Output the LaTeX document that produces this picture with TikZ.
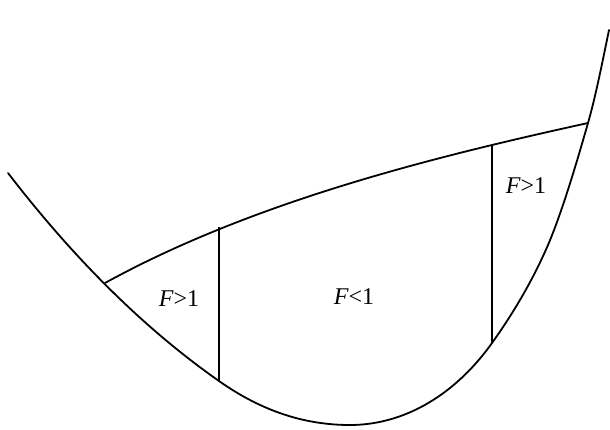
\documentclass[tikz,border=0pt]{standalone}
\usepackage{fontspec}
\setmainfont{Liberation Serif}
\begin{document}
\begin{tikzpicture}[x=1pt,y=-1pt,
  curve/.style={line width=1.8pt,line cap=round,line join=round},
  divider/.style={line width=1.6pt},
  lbl/.style={font=\fontsize{24}{28}\selectfont,inner sep=0pt}]
\useasboundingbox (0,0) rectangle (610,429);
% lower valley curve
\draw[curve] (8,173) .. controls (78,264) and (149,332) .. (219,381)
  .. controls (263,412) and (306,425) .. (350,425)
  .. controls (400,425) and (452,399) .. (492,343)
  .. controls (512,315) and (532,282) .. (548,245)
  .. controls (562,212) and (576,165) .. (588,123)
  .. controls (596,95) and (603,59) .. (609,30);
% upper curve
\draw[curve] (105,283) .. controls (255,200.5) and (438,156) .. (588,123);
% named endpoints of dividers
\coordinate (a1) at (219,227);
\coordinate (a2) at (219,381);
\coordinate (b1) at (492,145);
\coordinate (b2) at (492,343);
\draw[divider] (a1) -- (a2);
\draw[divider] (b1) -- (b2);
% labels
\node[lbl] (l1) at (179,299) {\textit{F}>1};
\node[lbl] (l2) at (354,297) {\textit{F}<1};
\node[lbl] (l3) at (526,186) {\textit{F}>1};
\end{tikzpicture}
\end{document}
